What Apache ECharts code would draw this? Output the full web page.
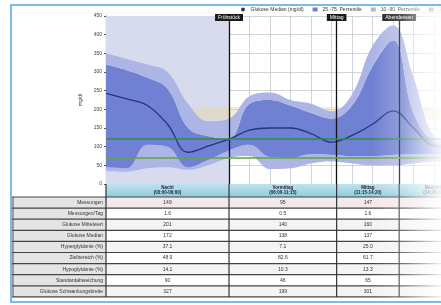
<!DOCTYPE html>
<html>
<head>
<meta charset="utf-8">
<script src="https://cdn.jsdelivr.net/npm/echarts@6/dist/echarts.min.js"></script>
<style>
  html, body { margin: 0; padding: 0; background: #fff; }
  #chart { width: 441px; height: 305px; filter: blur(0.45px); }
</style>
</head>
<body>
<div id="chart"></div>
<script>
// hours of the day (x) and glucose values in mg/dl
const hours = [0, 1, 2, 3, 4, 5, 6, 7, 8, 9, 10, 11, 12, 13, 14, 15, 16, 17];
const outerHigh = [350, 335, 320, 300, 215, 168, 175, 235, 245, 225, 215, 195, 240, 370, 425, 285, 130, 115];
const innerHigh = [320, 305, 285, 255, 150, 128, 122, 215, 225, 210, 190, 175, 210, 315, 385, 190, 115, 105];
const median = [243, 228, 211, 160, 85, 102, 120, 144, 150, 150, 135, 112, 130, 160, 196, 150, 102, 98];
const innerLow = [45, 42, 105, 100, 45, 65, 90, 105, 72, 70, 80, 78, 75, 75, 78, 80, 80, 80];
const outerLow = [35, 33, 42, 45, 38, 50, 70, 75, 40, 42, 55, 60, 55, 50, 50, 55, 60, 60];

const targetRange = [70, 120];
const mealTimes = [6, 11.25, 14.3];
const mealNames = ["Frühstück", "Mittag", "Abendessen"];

// table below the chart
const colBounds = [0, 6, 11.25, 14.3, 18];
const colHeads = ["Nacht\n(00:00-06:00)", "Vormittag\n(06:00-11:15)", "Mittag\n(11:15-14:20)", "Nachmittag\n(14:20-18:00)"];
const rowLabels = ["Messungen", "Messungen/Tag", "Glukose Mittelwert", "Glukose Median", "Hyperglykämie (%)",
  "Zielbereich (%)", "Hypoglykämie (%)", "Standardabweichung", "Glukose Schwankungsbreite"];
const col1 = ["149", "1.6", "201", "172", "37.1", "48.9", "14.1", "90", "327"];
const col2 = ["95", "0.5", "140", "138", "7.1", "82.6", "10.3", "46", "199"];
const col3 = ["147", "1.6", "160", "137", "25.0", "61.7", "13.3", "65", "301"];
const col4 = ["", "", "", "", "", "", "", "", ""];

// the x axis is a time axis over one day, so the bands stack on y
const HOUR = 3600 * 1000;
const day0 = Date.UTC(2024, 0, 1);
const t = (h) => day0 + h * HOUR;
const pair = (arr) => hours.map((h, i) => [t(h), arr[i]]);
const diff = (a, b) => hours.map((h, i) => [t(h), a[i] - b[i]]);

const lightBand = "#adb5e6";
const darkBand = "#7080d2";

const chart = echarts.init(document.getElementById("chart"));

let option = {
  animation: false,
  textStyle: { fontFamily: "Liberation Sans, Arial, sans-serif" },
  legend: {
    top: 2,
    left: 236,
    width: 400,
    itemWidth: 5,
    itemHeight: 4,
    itemGap: 9,
    textStyle: { fontSize: 5, color: "#333" },
    data: [
      { name: "Glukose Median (mg/dl)", icon: "circle" },
      { name: "25.-75. Perzentile", icon: "rect" },
      { name: "10.-90. Perzentile", icon: "rect" },
      { name: "Zielbereich", icon: "rect" },
    ],
  },
  grid: { left: 106, top: 16, right: 0, height: 168 },
  xAxis: {
    type: "time",
    min: t(0),
    max: t(16.34),
    minInterval: 2 * HOUR,
    maxInterval: 2 * HOUR,
    axisLine: { show: false },
    axisTick: { show: false },
    axisLabel: { show: false },
    splitLine: { show: true, lineStyle: { color: "#c8c8d0", width: 0.8 } },
  },
  yAxis: {
    type: "value",
    min: 0,
    max: 450,
    interval: 50,
    name: "mg/dl",
    nameLocation: "middle",
    nameGap: 13,
    nameTextStyle: { fontSize: 5, color: "#444" },
    axisLine: { show: true, lineStyle: { color: "#555", width: 1.2 } },
    axisTick: { show: true, length: 2, lineStyle: { color: "#555" } },
    axisLabel: { fontSize: 5, color: "#444", margin: 4 },
    splitLine: { lineStyle: { color: "#c8c8d0", width: 0.8 } },
  },
  series: [
    {
      // invisible base of the stack, also carries night shading and beige band
      name: "base",
      type: "line",
      stack: "band",
      data: pair(outerLow),
      smooth: 0.4,
      symbol: "none",
      lineStyle: { opacity: 0 },
      z: 1,
      markArea: {
        silent: true,
        data: [
          [{ xAxis: t(0), itemStyle: { color: "#d8dbee" } }, { xAxis: t(6) }],
          [{ xAxis: t(4.3), yAxis: 171, itemStyle: { color: "rgba(232,218,165,0.5)" } }, { xAxis: t(24), yAxis: 206 }],
        ],
      },
    },
    {
      name: "10.-90. Perzentile",
      type: "line",
      stack: "band",
      data: diff(innerLow, outerLow),
      smooth: 0.4,
      symbol: "none",
      lineStyle: { width: 0 },
      areaStyle: { color: lightBand, opacity: 1 },
      itemStyle: { color: lightBand },
      z: 2,
    },
    {
      name: "25.-75. Perzentile",
      type: "line",
      stack: "band",
      data: diff(innerHigh, innerLow),
      smooth: 0.4,
      symbol: "none",
      lineStyle: { width: 0 },
      areaStyle: { color: darkBand, opacity: 1 },
      itemStyle: { color: darkBand },
      z: 2,
    },
    {
      name: "10.-90. Perzentile",
      type: "line",
      stack: "band",
      data: diff(outerHigh, innerHigh),
      smooth: 0.4,
      symbol: "none",
      lineStyle: { width: 0 },
      areaStyle: { color: lightBand, opacity: 1 },
      itemStyle: { color: lightBand },
      z: 2,
    },
    {
      name: "Glukose Median (mg/dl)",
      type: "line",
      data: pair(median),
      smooth: 0.4,
      symbol: "none",
      lineStyle: { color: "#25347f", width: 1.3 },
      itemStyle: { color: "#25347f" },
      z: 4,
      markLine: {
        silent: true,
        symbol: "none",
        data: mealTimes.map((m, i) => ({
          xAxis: t(m),
          label: {
            show: true,
            position: "end",
            formatter: mealNames[i],
            fontSize: 5,
            color: "#fff",
            backgroundColor: "#1a1a1a",
            padding: [1, 3],
            distance: -5,
          },
          lineStyle: { color: "#111", width: 1.3, type: "solid" },
        })),
      },
    },
    {
      name: "Zielbereich",
      type: "line",
      data: [],
      itemStyle: { color: "#3e9b4b" },
      z: 3,
      markLine: {
        silent: true,
        symbol: "none",
        label: { show: false },
        data: targetRange.map((v) => ({
          yAxis: v,
          lineStyle: { color: v === 70 ? "#5fa63a" : "#2f8c45", width: 1.6, type: "solid" },
        })),
      },
    },
  ],
};

chart.setOption(option);

// build the table and frame from the axis positions
const px = (h) => chart.convertToPixel({ gridIndex: 0 }, [t(h), 0])[0];
const headTop = 184;
const headH = 13;
const rowH = 11.1;
const tableTop = headTop + headH;
const labelLeft = 12;
const cols = [col1, col2, col3, col4];
let g = [];

// header band
g.push({
  type: "rect",
  shape: { x: px(0), y: headTop, width: 441 - px(0), height: headH },
  style: {
    fill: new echarts.graphic.LinearGradient(0, 0, 0, 1, [
      { offset: 0, color: "#bfe3ee" },
      { offset: 1, color: "#8fcbdc" },
    ]),
  },
  z: 10,
});
colHeads.forEach((txt, i) => {
  g.push({
    type: "text",
    style: {
      text: txt,
      x: (px(colBounds[i]) + px(colBounds[i + 1])) / 2,
      y: headTop + headH / 2,
      align: "center",
      verticalAlign: "middle",
      fontSize: 4.5,
      fontWeight: "bold",
      lineHeight: 5,
      fill: "#223",
    },
    z: 11,
  });
});

// rows
rowLabels.forEach((lab, r) => {
  const y = tableTop + r * rowH;
  g.push({
    type: "rect",
    shape: { x: labelLeft, y: y, width: px(0) - labelLeft, height: rowH },
    style: { fill: "#e4e4e4" },
    z: 10,
  });
  g.push({
    type: "rect",
    shape: { x: px(0), y: y, width: 441 - px(0), height: rowH },
    style: { fill: r === 0 ? "#f3e9ea" : r % 2 ? "#ffffff" : "#f4f4f4" },
    z: 10,
  });
  g.push({
    type: "text",
    style: {
      text: lab,
      x: px(0) - 3,
      y: y + rowH / 2,
      align: "right",
      verticalAlign: "middle",
      fontSize: 5,
      fill: "#333",
    },
    z: 11,
  });
  cols.forEach((c, i) => {
    g.push({
      type: "text",
      style: {
        text: c[r],
        x: (px(colBounds[i]) + px(colBounds[i + 1])) / 2,
        y: y + rowH / 2,
        align: "center",
        verticalAlign: "middle",
        fontSize: 5,
        fill: "#333",
      },
      z: 11,
    });
  });
  // row separator
  g.push({
    type: "line",
    shape: { x1: labelLeft, y1: y, x2: 441, y2: y },
    style: { stroke: "#444", lineWidth: 1.2 },
    z: 12,
  });
});
const tableBottom = tableTop + rowLabels.length * rowH;
g.push({
  type: "line",
  shape: { x1: labelLeft, y1: tableBottom, x2: 441, y2: tableBottom },
  style: { stroke: "#444", lineWidth: 1.2 },
  z: 12,
});

// column lines through header and table
colBounds.forEach((b) => {
  g.push({
    type: "line",
    shape: { x1: px(b), y1: headTop, x2: px(b), y2: tableBottom },
    style: { stroke: "#333", lineWidth: 1.2 },
    z: 12,
  });
});
g.push({
  type: "line",
  shape: { x1: labelLeft + 1, y1: tableTop, x2: labelLeft + 1, y2: tableBottom },
  style: { stroke: "#555", lineWidth: 1 },
  z: 12,
});

// white fade on the right
g.push({
  type: "rect",
  shape: { x: 372, y: 0, width: 69, height: 305 },
  style: {
    fill: new echarts.graphic.LinearGradient(0, 0, 1, 0, [
      { offset: 0, color: "rgba(255,255,255,0)" },
      { offset: 0.45, color: "rgba(255,255,255,0.25)" },
      { offset: 1, color: "rgba(255,255,255,0.9)" },
    ]),
  },
  silent: true,
  z: 50,
});

// blue frame
g.push({
  type: "polyline",
  shape: { points: [[441, 5], [11, 5], [11, 302], [441, 302]] },
  style: { stroke: "#4da6df", lineWidth: 1.5, fill: null },
  z: 60,
});

chart.setOption({ graphic: g });
</script>
</body>
</html>
